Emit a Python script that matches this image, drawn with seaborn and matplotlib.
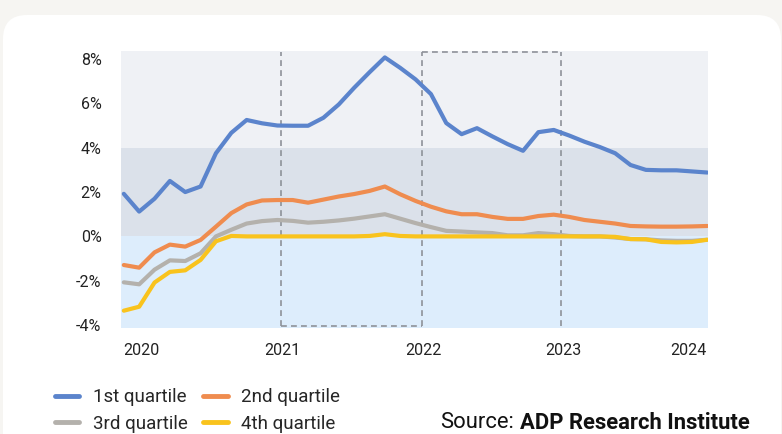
import numpy as np
import pandas as pd
import matplotlib
matplotlib.use("Agg")
import matplotlib.pyplot as plt
import seaborn as sns
from matplotlib.patches import FancyBboxPatch
from matplotlib.lines import Line2D
from matplotlib.transforms import IdentityTransform

# === Data (percent) ===
n_points = 39
x_years = 2019.882 + np.arange(n_points) * 0.1092

q1 = [1.92, 1.12, 1.70, 2.50, 2.00, 2.25, 3.75, 4.67, 5.25, 5.10,
      5.00, 4.99, 4.99, 5.35, 5.95, 6.70, 7.40, 8.07, 7.60, 7.08,
      6.42, 5.11, 4.61, 4.88, 4.51, 4.16, 3.86, 4.70, 4.80, 4.55,
      4.27, 4.03, 3.75, 3.22, 3.00, 2.98, 2.98, 2.93, 2.88]
q2 = [-1.29, -1.41, -0.72, -0.37, -0.46, -0.16, 0.44, 1.05, 1.44, 1.62,
      1.64, 1.64, 1.52, 1.66, 1.80, 1.91, 2.05, 2.25, 1.90, 1.60,
      1.34, 1.13, 1.00, 1.00, 0.88, 0.79, 0.79, 0.92, 0.98, 0.88,
      0.74, 0.66, 0.58, 0.47, 0.45, 0.44, 0.44, 0.45, 0.47]
q3 = [-2.07, -2.16, -1.50, -1.08, -1.11, -0.76, 0.00, 0.30, 0.58, 0.69,
      0.74, 0.70, 0.62, 0.66, 0.72, 0.80, 0.90, 1.00, 0.80, 0.60,
      0.42, 0.25, 0.22, 0.18, 0.15, 0.05, 0.05, 0.15, 0.10, 0.02,
      0.00, 0.00, -0.05, -0.12, -0.13, -0.18, -0.20, -0.20, -0.15]
q4 = [-3.35, -3.17, -2.08, -1.60, -1.53, -1.06, -0.22, 0.02, 0.00, 0.00,
      0.00, 0.00, 0.00, 0.00, 0.00, 0.00, 0.02, 0.10, 0.02, 0.00,
      0.00, 0.00, 0.00, 0.00, 0.00, 0.00, 0.00, 0.00, 0.00, 0.00,
      0.00, 0.00, -0.02, -0.12, -0.13, -0.25, -0.27, -0.25, -0.15]

series_names = ["1st quartile", "2nd quartile", "3rd quartile", "4th quartile"]
colors = ["#5b84cc", "#ef8c4f", "#b4b1ac", "#f9c31d"]

year_ticks = [2020.01, 2021.01, 2022.01, 2023.01, 2023.9]
year_labels = ["2020", "2021", "2022", "2023", "2024"]
y_ticks = [-4, -2, 0, 2, 4, 6, 8]

df = pd.DataFrame({
    "year": np.tile(x_years, 4),
    "value": q1 + q2 + q3 + q4,
    "series": np.repeat(series_names, n_points),
})

# === Style ===
sns.set_style("white")
plt.rcParams["font.family"] = ["Roboto", "DejaVu Sans"]

fig = plt.figure(figsize=(7.82, 4.34), dpi=100)
fig.patch.set_facecolor("#f6f5f2")

# white card behind the chart
card = FancyBboxPatch((3, -40), 778, 434 - 15 + 40,
                      boxstyle="round,pad=0,rounding_size=24",
                      transform=IdentityTransform(),
                      facecolor="white", edgecolor="none", zorder=-5)
fig.patches.append(card)

ax = fig.add_axes([121 / 782, 1 - 328 / 434, 587 / 782, 277 / 434])
ax.set_facecolor("none")
ax.set_zorder(1)

ymin, ymax = -4.13, 8.36
xmin, xmax = x_years[0] - 0.02, x_years[-1] + 0.005

# background bands
ax.axhspan(4, ymax, color="#eff1f5", zorder=0, lw=0)
ax.axhspan(0, 4, color="#dbe1ea", zorder=0, lw=0)
ax.axhspan(ymin, 0, color="#ddedfc", zorder=0, lw=0)

sns.lineplot(data=df, x="year", y="value", hue="series",
             hue_order=series_names, palette=colors,
             linewidth=3.0, ax=ax, legend=False, zorder=3)

# dashed period boxes
dash_kw = dict(color="#8e9299", lw=1.2, ls=(0, (3.5, 2.5)), zorder=2)
for xv in [2021.0, 2022.0, 2022.99]:
    ax.plot([xv, xv], [ymin + 0.1, ymax - 0.04], **dash_kw)
ax.plot([2021.0, 2022.0], [ymin + 0.1, ymin + 0.1], **dash_kw)
ax.plot([2022.0, 2022.99], [ymax - 0.04, ymax - 0.04], **dash_kw)

ax.set_xlim(xmin, xmax)
ax.set_ylim(ymin, ymax)
ax.set_xticks(year_ticks)
ax.set_xticklabels(year_labels)
ax.set_yticks(y_ticks)
ax.set_yticklabels([f"{v}%" for v in y_ticks])
ax.tick_params(axis="both", length=0, labelsize=11.5, colors="#222222")
ax.tick_params(axis="y", pad=14)
ax.tick_params(axis="x", pad=11)
ax.set_xlabel("")
ax.set_ylabel("")
sns.despine(ax=ax, left=True, bottom=True)

# legend (row-major order: 1st, 2nd / 3rd, 4th)
handles = [Line2D([0], [0], color=c, lw=3.5) for c in colors]
order = [0, 2, 1, 3]
fig.legend([handles[i] for i in order], [series_names[i] for i in order],
           ncol=2, loc="upper left", bbox_to_anchor=(47 / 782, 1 - 381 / 434),
           frameon=False, fontsize=13.5, handlelength=1.33, handletextpad=0.72,
           columnspacing=0.8, labelspacing=0.45, borderaxespad=0)

src = fig.text(440 / 782, 1 - 423 / 434, "Source:", fontsize=15.8,
               va="center", ha="left", color="#111111")
fig.canvas.draw()
bb = src.get_window_extent()
fig.text((bb.x1 + 6) / 782, 1 - 423 / 434, "ADP Research Institute",
         fontsize=15.8, va="center", ha="left", weight="bold", color="#111111")

fig.savefig("out.png", dpi=100, facecolor=fig.get_facecolor())
